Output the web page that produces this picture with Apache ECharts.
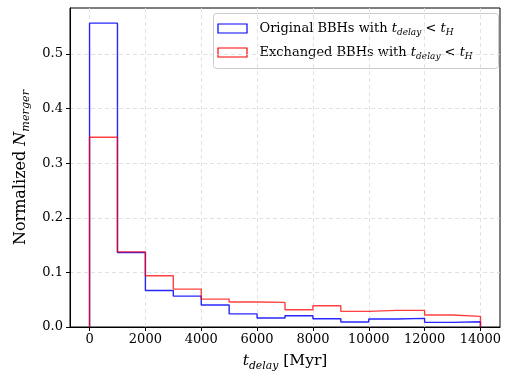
<!DOCTYPE html>
<html>
<head>
<meta charset="utf-8">
<script src="https://cdn.jsdelivr.net/npm/echarts@6/dist/echarts.min.js"></script>
<style>
  html, body { margin: 0; padding: 0; background: #fff; }
  #chart { width: 508px; height: 371px; }
</style>
</head>
<body>
<div id="chart"></div>
<script>
// Delay-time bin edges (Myr) and normalized merger fractions per bin
const binEdges = [0, 1000, 2000, 3000, 4000, 5000, 6000, 7000, 8000, 9000, 10000, 11000, 12000, 13000, 14000];
const originalBBH = [0.5566, 0.1364, 0.0670, 0.0566, 0.0402, 0.0240, 0.0164, 0.0207, 0.0152, 0.0091, 0.0146, 0.0158, 0.0085, 0.0097];
const exchangedBBH = [0.3476, 0.1376, 0.0938, 0.0694, 0.0511, 0.0457, 0.0451, 0.0317, 0.0390, 0.0286, 0.0304, 0.0304, 0.0219, 0.0195];
const xTicks = [0, 2000, 4000, 6000, 8000, 10000, 12000, 14000];
const yTicks = [0, 0.1, 0.2, 0.3, 0.4, 0.5];

const SERIF = "'DejaVu Serif', serif";

// Outline of a step histogram: up from zero, across each bin, back down at the last edge
function stepOutline(values) {
  const pts = [[binEdges[0], 0]];
  values.forEach((v, i) => {
    pts.push([binEdges[i], v]);
    pts.push([binEdges[i + 1], v]);
  });
  pts.push([binEdges[binEdges.length - 1], 0]);
  return pts;
}

const chart = echarts.init(document.getElementById('chart'), null, { renderer: 'canvas' });

const mathRich = {
  n: { fontFamily: SERIF, fontSize: 13, color: '#000', lineHeight: 18 },
  it: { fontFamily: SERIF, fontStyle: 'italic', fontSize: 13, color: '#000', lineHeight: 18 },
  sub: { fontFamily: SERIF, fontStyle: 'italic', fontSize: 9, color: '#000', lineHeight: 9, verticalAlign: 'bottom' }
};

function axisRich(size) {
  return {
    n: { fontFamily: SERIF, fontSize: size, color: '#000', lineHeight: size + 5 },
    it: { fontFamily: SERIF, fontStyle: 'italic', fontSize: size, color: '#000', lineHeight: size + 5 },
    sub: { fontFamily: SERIF, fontStyle: 'italic', fontSize: size * 0.7, color: '#000', lineHeight: 10, verticalAlign: 'bottom' }
  };
}

const gridLine = { show: true, lineStyle: { color: '#d9d9d9', type: [4, 3], width: 0.8 } };

const legendTop = 13, legendLeft = 213;

chart.setOption({
  animation: false,
  backgroundColor: '#fff',
  grid: {
    left: 70, right: 8, top: 8, bottom: 44,
    outerBoundsMode: 'none',
    containLabel: false,
    show: true, borderColor: '#000', borderWidth: 1, backgroundColor: 'transparent'
  },
  xAxis: {
    type: 'value',
    min: -700,
    max: 14700,
    axisLine: { show: true, onZero: false, lineStyle: { color: '#000', width: 1 } },
    axisTick: { show: true, length: 4, customValues: xTicks, lineStyle: { color: '#000' } },
    axisLabel: { customValues: xTicks, margin: 6, fontFamily: SERIF, fontSize: 13, color: '#000', formatter: v => String(v) },
    splitLine: gridLine,
    name: '{it|t}{sub|delay}{n| [Myr]}',
    nameLocation: 'middle',
    nameGap: 24,
    nameTextStyle: { rich: axisRich(15.5) }
  },
  yAxis: {
    type: 'value',
    min: 0,
    max: 0.5844,
    interval: 0.1,
    axisLine: { show: true, onZero: false, lineStyle: { color: '#000', width: 1 } },
    axisTick: { show: true, length: 4, customValues: yTicks, lineStyle: { color: '#000' } },
    axisLabel: { customValues: yTicks, margin: 7, fontFamily: SERIF, fontSize: 13, color: '#000', formatter: v => v.toFixed(1) },
    splitLine: gridLine,
    name: '{n|Normalized }{it|N}{sub|merger}',
    nameLocation: 'middle',
    nameRotate: 90,
    nameGap: 38,
    nameTextStyle: { rich: axisRich(16) }
  },
  series: [
    {
      name: 'Original BBHs',
      type: 'line',
      data: stepOutline(originalBBH),
      showSymbol: false,
      clip: false,
      lineStyle: { color: '#0000ff', width: 1.4, opacity: 0.85 }
    },
    {
      name: 'Exchanged BBHs',
      type: 'line',
      data: stepOutline(exchangedBBH),
      showSymbol: false,
      clip: false,
      lineStyle: { color: '#ff0000', width: 1.4, opacity: 0.75 }
    }
  ],
  graphic: [
    {
      type: 'group',
      left: legendLeft,
      top: legendTop,
      children: [
        { type: 'rect', shape: { x: 0, y: 0, width: 285, height: 55, r: 3 },
          style: { fill: 'rgba(255,255,255,0.8)', stroke: '#cccccc', lineWidth: 1 } },
        { type: 'rect', shape: { x: 4.5, y: 10.5, width: 29, height: 9 },
          style: { fill: 'none', stroke: '#0000ff', lineWidth: 1.2 } },
        { type: 'text', x: 46, y: 15, style: {
            text: '{n|Original BBHs with }{it|t}{sub|delay}{n| < }{it|t}{sub|H}',
            rich: mathRich, verticalAlign: 'middle' } },
        { type: 'rect', shape: { x: 4.5, y: 34.5, width: 29, height: 9 },
          style: { fill: 'none', stroke: '#ff0000', lineWidth: 1.2 } },
        { type: 'text', x: 46, y: 39, style: {
            text: '{n|Exchanged BBHs with }{it|t}{sub|delay}{n| < }{it|t}{sub|H}',
            rich: mathRich, verticalAlign: 'middle' } }
      ]
    }
  ]
});
</script>
</body>
</html>
